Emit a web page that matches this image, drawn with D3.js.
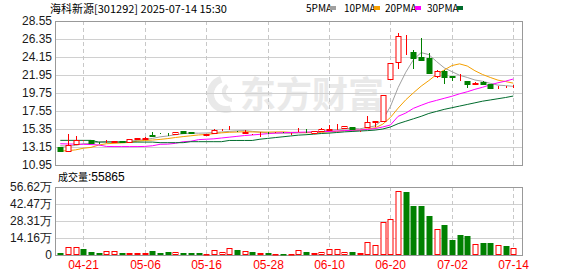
<!DOCTYPE html>
<html>
<head>
<meta charset="utf-8">
<script src="https://cdn.jsdelivr.net/npm/d3@7"></script>
<style>
  body { margin: 0; background: #fff; }
  svg { display: block; }
</style>
</head>
<body>
<div id="chart"></div>
<script>
// trading days shown
const dates = ["04-16","04-17","04-18","04-21","04-22","04-23","04-24","04-25","04-28","04-29",
  "04-30","05-06","05-07","05-08","05-09","05-12","05-13","05-14","05-15","05-16",
  "05-19","05-20","05-21","05-22","05-23","05-26","05-27","05-28","05-29","05-30",
  "06-03","06-04","06-05","06-06","06-09","06-10","06-11","06-12","06-13","06-16",
  "06-17","06-18","06-19","06-20","06-23","06-24","06-25","06-26","06-27","06-30",
  "07-01","07-02","07-03","07-04","07-07","07-08","07-09","07-10","07-11","07-14"];

const open = [13.10,12.70,13.55,13.96,14.00,13.70,13.78,13.78,13.88,13.76,
  14.18,14.13,14.60,14.80,14.72,14.80,15.10,14.95,14.78,14.58,
  14.90,15.20,15.22,15.12,14.92,14.70,14.75,14.90,14.90,14.92,
  14.60,14.98,15.08,14.86,15.06,15.28,15.30,15.45,15.55,15.08,
  15.56,16.20,16.30,21.42,23.50,25.55,24.75,24.15,24.05,21.85,
  22.50,21.80,21.62,21.20,20.90,21.13,20.80,20.45,20.48,20.50];
const high = [13.20,14.80,14.50,14.05,14.02,13.72,14.00,13.90,13.90,14.15,
  14.30,14.35,14.95,14.85,14.90,15.00,15.12,14.98,14.80,14.80,
  15.35,15.30,15.75,15.15,15.23,14.76,15.02,15.02,14.95,14.95,
  14.82,15.43,15.31,15.16,15.51,15.84,15.96,15.72,15.57,15.15,
  16.94,16.30,19.50,23.40,27.05,26.90,25.00,26.50,24.60,22.55,
  22.55,21.83,22.04,21.25,21.10,21.20,20.85,20.55,20.60,20.70];
const low = [12.50,12.65,13.35,13.90,13.68,13.47,13.62,13.75,13.75,13.75,
  14.12,14.10,14.50,14.70,14.55,14.78,14.90,14.78,14.70,14.55,
  14.88,15.10,15.20,15.00,14.90,14.58,14.42,14.74,14.85,14.85,
  14.58,14.95,14.85,14.84,15.04,15.22,15.25,15.42,15.22,15.02,
  15.50,15.55,16.20,21.40,22.65,24.40,22.72,23.75,22.04,21.60,
  20.80,21.18,21.22,20.35,20.73,20.75,20.25,20.28,20.35,20.40];
const close = [12.70,13.45,14.05,13.96,13.70,13.66,13.82,13.85,13.80,14.13,
  14.22,14.30,14.55,14.75,14.68,14.98,14.92,14.90,14.74,14.78,
  15.23,15.25,15.28,15.08,14.98,14.70,14.80,14.86,14.92,14.90,
  14.65,15.02,15.05,15.14,15.39,15.35,15.36,15.70,15.30,15.12,
  16.24,16.28,19.50,23.40,26.70,25.55,24.00,23.80,22.15,22.50,
  21.70,21.65,21.62,20.80,20.95,20.90,20.40,20.50,20.48,20.52];
// 成交量, 万手
const volume = [1.7,6.7,6.7,5.3,2.5,1.7,3.3,3.3,1.7,1.7,
  1.7,1.7,3.3,1.7,2.5,2.5,1.7,1.7,1.7,0.8,
  4.0,2.5,5.8,4.2,3.3,2.5,1.7,1.7,0.8,0.8,
  0.8,3.9,2.2,1.7,2.2,4.7,4.7,2.8,2.5,1.7,
  10.6,8.1,27.2,30.0,53.4,52.5,40.8,40.8,32.5,21.7,
  25.0,12.5,16.7,15.8,9.2,10.0,10.0,8.1,7.2,5.5865];

const ma5 = [13.30,13.25,13.35,13.55,13.57,13.76,13.84,13.80,13.77,13.85,
  13.96,14.06,14.20,14.39,14.50,14.65,14.78,14.85,14.84,14.86,
  14.91,14.98,15.06,15.12,15.16,15.06,14.97,14.88,14.85,14.84,
  14.83,14.87,14.91,14.95,15.05,15.19,15.26,15.39,15.42,15.37,
  15.54,15.73,16.49,18.11,20.42,22.29,23.83,24.69,24.44,23.60,
  22.83,22.36,21.92,21.65,21.34,21.18,20.93,20.71,20.65,20.56];
const ma10 = [12.66,12.70,12.80,13.00,13.10,13.39,13.55,13.60,13.65,13.71,
  13.86,13.95,14.00,14.08,14.18,14.31,14.42,14.52,14.62,14.68,
  14.78,14.88,14.95,14.98,15.01,14.99,14.97,14.97,14.99,15.00,
  14.94,14.92,14.90,14.90,14.94,15.01,15.06,15.15,15.19,15.21,
  15.37,15.49,15.94,16.76,17.90,18.92,19.78,20.59,21.27,22.01,
  22.56,23.10,23.31,23.05,22.47,22.01,21.65,21.32,21.15,20.95];
const ma20 = [13.55,13.52,13.50,13.48,13.45,13.40,13.22,13.20,13.20,13.20,
  13.20,13.22,13.30,13.48,13.50,13.60,13.80,13.85,14.05,14.10,
  14.15,14.25,14.35,14.45,14.55,14.62,14.70,14.78,14.85,14.90,
  14.92,14.95,14.97,15.00,15.02,15.05,15.10,15.15,15.20,15.22,
  15.30,15.40,15.60,15.84,16.90,17.30,17.88,18.25,18.60,18.85,
  19.10,19.35,19.65,19.90,20.20,20.45,20.75,21.00,21.20,21.46];
const ma30 = [13.96,13.96,13.96,13.96,13.96,13.75,13.75,13.75,13.75,13.75,
  13.75,13.75,13.75,13.68,13.68,13.68,13.68,13.80,13.80,13.80,
  13.80,13.80,13.95,13.95,13.95,13.95,14.10,14.20,14.30,14.40,
  14.50,14.60,14.65,14.72,14.80,14.85,14.92,15.00,15.05,15.10,
  15.15,15.22,15.35,15.60,16.00,16.30,16.60,16.90,17.25,17.50,
  17.75,17.95,18.15,18.35,18.55,18.75,18.90,19.05,19.20,19.38];

const priceTicks = [10.95,13.15,15.35,17.55,19.75,21.95,24.15,26.35,28.55];
const volTicks = [0,14.16,28.31,42.47,56.62];
const dateTicks = ["04-21","05-06","05-16","05-28","06-10","06-20","07-02","07-14"];

const maSeries = [
  {name:"5PMA", values: ma5, color:"#a0a0a0"},
  {name:"10PMA", values: ma10, color:"#f5a000"},
  {name:"20PMA", values: ma20, color:"#ff00ff"},
  {name:"30PMA", values: ma30, color:"#006b2d"}
];

const W = 578, H = 276;
const left = 55, right = 522;
const pTop = 21, pBot = 165, vTop = 187, vBot = 255;
const RED = "#ff0000", GREEN = "#008000";

const svg = d3.select("#chart").append("svg")
  .attr("width", W).attr("height", H)
  .style("font-family", "'Liberation Sans', Arial, sans-serif");

const x = d3.scalePoint().domain(dates).range([60.3, 513.3]);
const y = d3.scaleLinear().domain([10.95, 28.55]).range([pBot, pTop]);
const yv = d3.scaleLinear().domain([0, 56.62]).range([vBot, vTop]);
const cx = d => Math.round(x(d)) + 0.5;

// watermark
const wm = svg.append("g").attr("fill", "#e9e9e9");
wm.append("path")
  .attr("transform", "translate(226,94)")
  .attr("d", d3.arc()({innerRadius: 12, outerRadius: 19, startAngle: Math.PI * 0.9, endAngle: Math.PI * 1.9}));
wm.append("path")
  .attr("transform", "translate(232,92)")
  .attr("d", d3.arc()({innerRadius: 6, outerRadius: 10, startAngle: Math.PI * 1.0, endAngle: Math.PI * 1.8}));
wm.append("text").attr("x", 240).attr("y", 108)
  .attr("font-family", "'Noto Sans CJK SC'").attr("font-weight", "bold")
  .attr("font-size", 36).text("东方财富");

// grids
const grid = svg.append("g");
grid.selectAll(".hp").data(priceTicks.slice(1, -1)).enter().append("line")
  .attr("x1", left).attr("x2", right)
  .attr("y1", d => Math.round(y(d)) + 0.5).attr("y2", d => Math.round(y(d)) + 0.5)
  .attr("stroke", "#d0d0d0");
grid.selectAll(".hv").data(volTicks.slice(1, -1)).enter().append("line")
  .attr("x1", left).attr("x2", right)
  .attr("y1", d => Math.round(yv(d)) + 0.5).attr("y2", d => Math.round(yv(d)) + 0.5)
  .attr("stroke", "#d0d0d0");
dateTicks.forEach(d => {
  [[pTop, pBot], [vTop, vBot]].forEach(r => {
    grid.append("line")
      .attr("x1", cx(d)).attr("x2", cx(d)).attr("y1", r[0]).attr("y2", r[1])
      .attr("stroke", "#c8c8c8").attr("stroke-dasharray", "4,3");
  });
});

// frames
[[pTop, pBot], [vTop, vBot]].forEach(r => {
  svg.append("rect").attr("x", left + 0.5).attr("y", r[0] + 0.5)
    .attr("width", right - left).attr("height", r[1] - r[0])
    .attr("fill", "none").attr("stroke", "#999");
});

// MA lines
maSeries.forEach(s => {
  svg.append("path")
    .datum(s.values)
    .attr("fill", "none").attr("stroke", s.color).attr("stroke-width", 1)
    .attr("d", d3.line().x((v, i) => x(dates[i])).y(v => y(v)));
});

// candles
const up = i => close[i] > open[i] || (close[i] === open[i]);
const candles = svg.append("g").selectAll("g").data(dates).enter().append("g");
candles.append("line")
  .attr("x1", d => cx(d)).attr("x2", d => cx(d))
  .attr("y1", (d, i) => Math.round(y(high[i])))
  .attr("y2", (d, i) => Math.round(y(low[i])))
  .attr("stroke", (d, i) => up(i) ? RED : GREEN);
candles.append("rect")
  .attr("x", d => cx(d) - 2.5)
  .attr("width", 5)
  .attr("y", (d, i) => Math.round(y(Math.max(open[i], close[i]))) + 0.5)
  .attr("height", (d, i) => Math.max(0, Math.round(y(Math.min(open[i], close[i]))) - Math.round(y(Math.max(open[i], close[i])))))
  .attr("fill", (d, i) => up(i) ? "#fff" : GREEN)
  .attr("stroke", (d, i) => up(i) ? RED : GREEN);

// volume
const volUp = i => close[i] > open[i] || (close[i] === open[i] && (i === 0 || close[i] >= close[i - 1]));
svg.append("g").selectAll("rect").data(dates).enter().append("rect")
  .attr("x", d => cx(d) - 2.5)
  .attr("width", 5)
  .attr("y", (d, i) => Math.round(yv(volume[i])) + 0.5)
  .attr("height", (d, i) => Math.max(0.5, vBot - Math.round(yv(volume[i])) - 1))
  .attr("fill", (d, i) => volUp(i) ? "#fff" : GREEN)
  .attr("stroke", (d, i) => volUp(i) ? RED : GREEN);

// axis labels
const axisText = "#1a1a1a";
svg.append("g").selectAll("text").data(priceTicks).enter().append("text")
  .attr("x", 52).attr("y", d => y(d)).attr("dy", "0.36em")
  .attr("text-anchor", "end").attr("font-size", 12).attr("fill", axisText)
  .text(d => d.toFixed(2));
svg.append("g").selectAll("text").data(volTicks).enter().append("text")
  .attr("x", 52).attr("y", d => yv(d)).attr("dy", "0.36em")
  .attr("text-anchor", "end").attr("font-size", 12).attr("fill", axisText)
  .text(d => d === 0 ? "0" : d.toFixed(2) + "万");
svg.append("g").selectAll("text").data(dateTicks).enter().append("text")
  .attr("x", d => cx(d)).attr("y", 269)
  .attr("text-anchor", "middle").attr("font-size", 12).attr("fill", RED)
  .text(d => d);

// title & legend
svg.append("text").attr("x", 50).attr("y", 13)
  .attr("font-family", "'Noto Sans CJK SC'").attr("font-size", 11).attr("fill", "#000")
  .text("海科新源[301292] 2025-07-14 15:30");
const lg = svg.append("g").attr("font-family", "'Noto Sans CJK SC'").attr("font-size", 10);
const lgX = [306, 344, 385, 427];
maSeries.forEach((s, i) => {
  lg.append("text").attr("x", lgX[i]).attr("y", 12).attr("fill", "#000").text(s.name);
  lg.append("rect").attr("x", lgX[i] + (i === 0 ? 24 : 30)).attr("y", 6)
    .attr("width", 6).attr("height", 4).attr("fill", s.color);
});

const vt = svg.append("text").attr("x", 58).attr("y", 181).attr("fill", "#000");
vt.append("tspan").attr("font-family", "'Noto Sans CJK SC'").attr("font-size", 10).text("成交量");
vt.append("tspan").attr("font-size", 12).text(":55865");
</script>
</body>
</html>
